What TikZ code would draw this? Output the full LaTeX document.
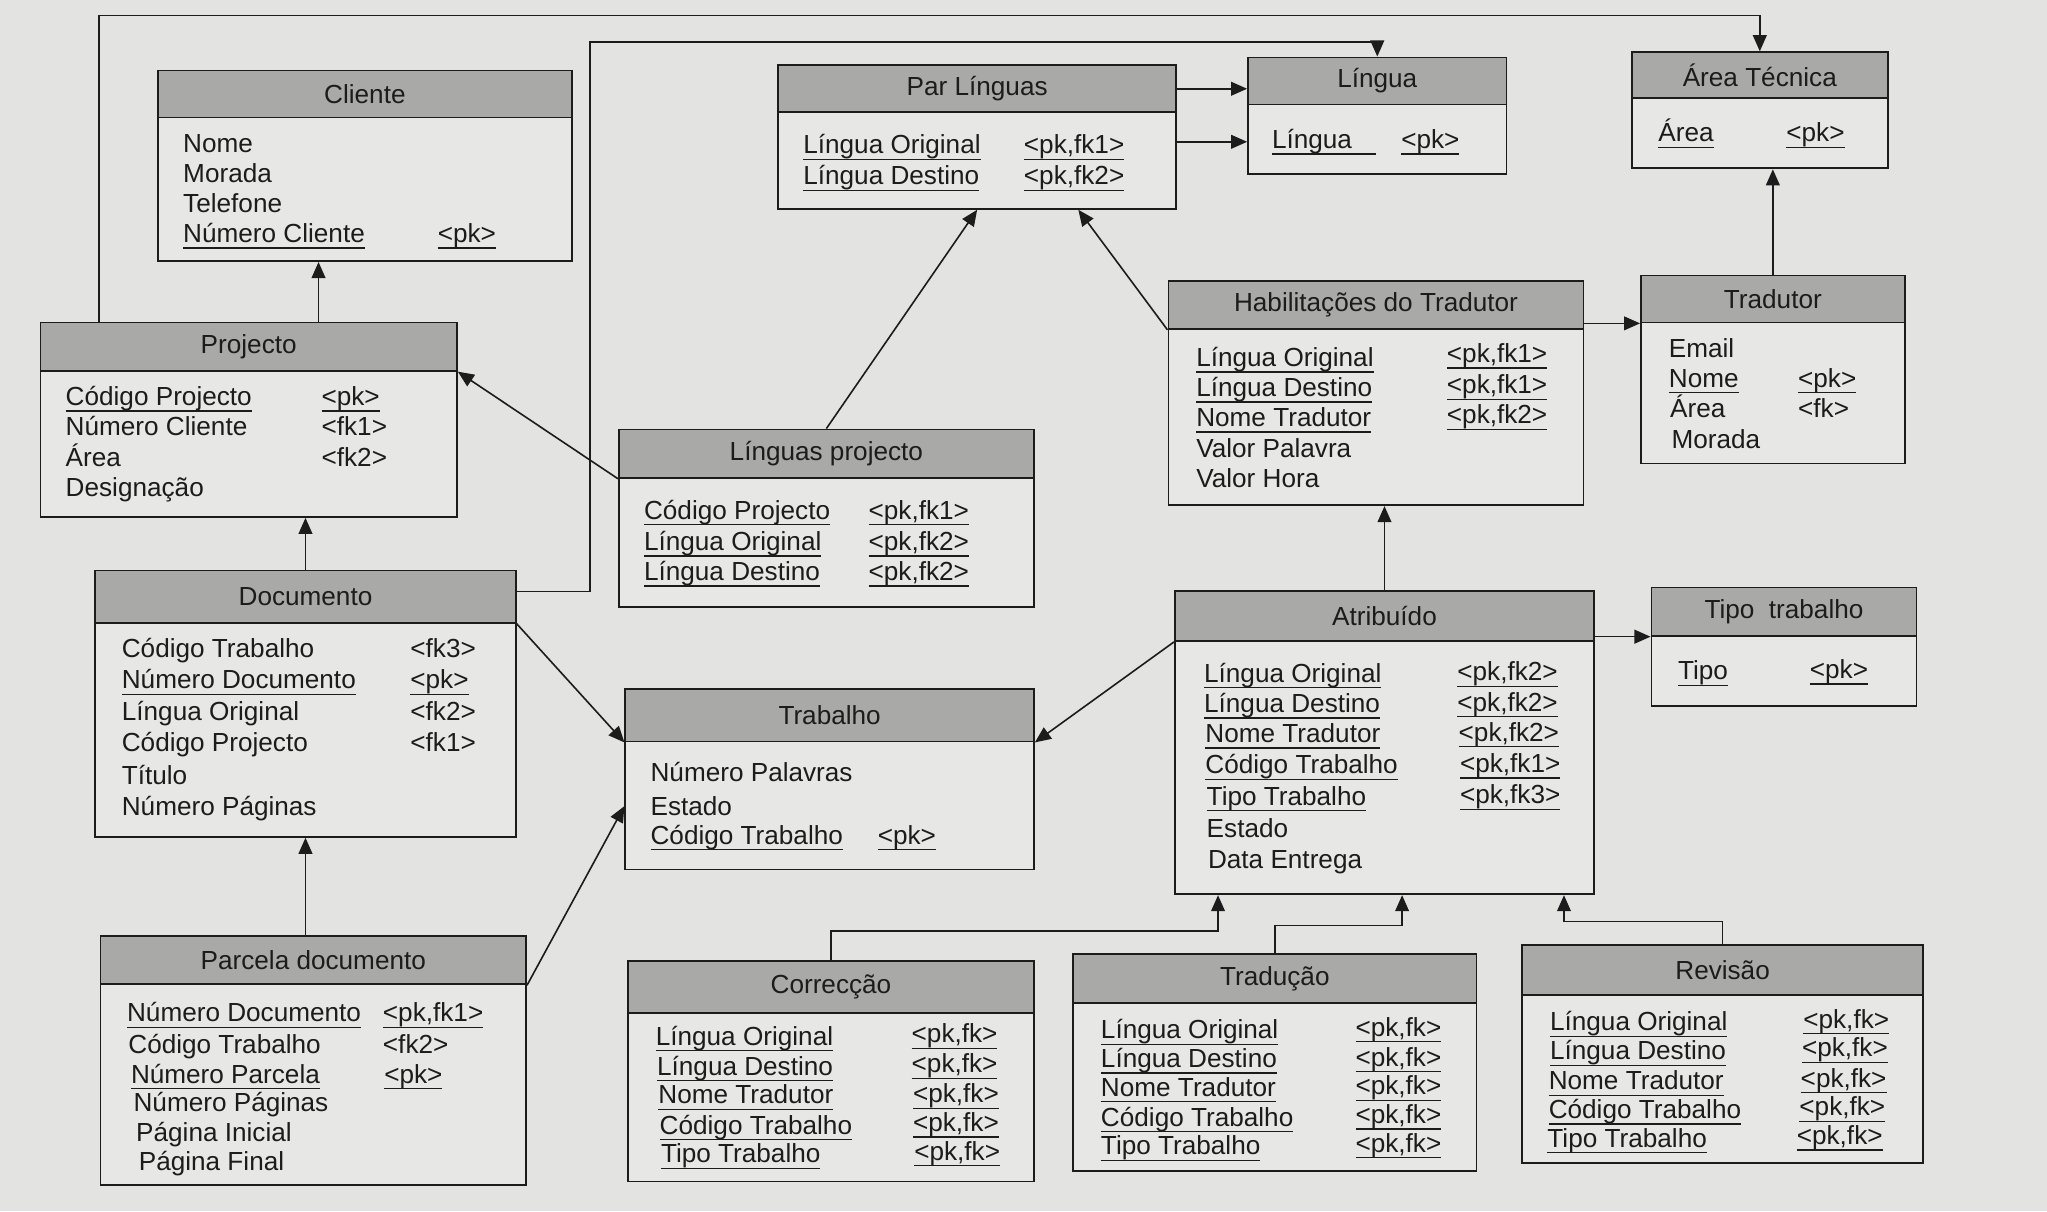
\documentclass[tikz,border=0pt]{standalone}
\usepackage{fontspec}
\setmainfont{Liberation Sans}
\usetikzlibrary{positioning, fit, arrows.meta}

\definecolor{fundo}{HTML}{E3E3E1}
\definecolor{claro}{HTML}{E7E7E5}
\definecolor{escuro}{HTML}{A9A9A7}
\definecolor{tinta}{HTML}{1C1C1C}

\newcommand{\chave}[1]{\setbox0\hbox{#1}\rlap{\rule[-2.7pt]{\wd0}{0.55pt}}\box0}
% tabela: nome, x esq, y topo, x dir, y fim cabecalho, y fundo, titulo
\newcommand{\tabela}[7]{%
  \node[corpo, fit={(#2,#3) (#4,#6)}] (#1) {};
  \node[cabeca, fit={(#2,#3) (#4,#5)}] (#1-h) {};
  \node[titulo] (#1-t) at (#1-h.center) {#7};
}

\begin{document}
\begin{tikzpicture}[x=0.02cm, y=-0.02cm, font=\fontsize{11.4}{13}\selectfont,
    corpo/.style={draw=tinta, fill=claro, line width=0.8pt, inner sep=0pt},
    cabeca/.style={draw=tinta, fill=escuro, line width=0.8pt, inner sep=0pt},
    titulo/.style={inner sep=0pt, text=tinta},
    campo/.style={anchor=mid west, inner sep=0pt, text=tinta},
    seta/.style={draw=tinta, line width=0.7pt, -{Triangle[length=7pt,width=6pt]}}]
    \path[use as bounding box, fill=fundo] (0,0) rectangle (1568,928);

    % tabelas
    \tabela{cliente}{121}{54}{438}{90}{200}{Cliente}
    \tabela{projecto}{31}{247}{350}{284}{396}{Projecto}
    \tabela{documento}{73}{437}{395}{477}{641}{Documento}
    \tabela{parcela}{77}{717}{403}{754}{908}{Parcela documento}
    \tabela{parlinguas}{596}{50}{901}{86}{160}{Par Línguas}
    \tabela{lingua}{956}{44}{1154}{80}{133}{Língua}
    \tabela{area}{1250}{40}{1446}{75}{129}{Área Técnica}
    \tabela{habil}{895}{215}{1213}{252}{387}{Habilitações do Tradutor}
    \tabela{tradutor}{1257}{211}{1459}{247}{355}{Tradutor}
    \tabela{linproj}{474}{329}{792}{366}{465}{Línguas projecto}
    \tabela{trabalho}{479}{528}{792}{568}{666}{Trabalho}
    \tabela{atrib}{900}{453}{1221}{491}{685}{Atribuído}
    \tabela{tipo}{1265}{450}{1468}{487}{541}{Tipo\ \ trabalho}
    \tabela{correc}{481}{736}{792}{776}{905}{Correcção}
    \tabela{tradu}{822}{731}{1131}{768}{897}{Tradução}
    \tabela{revis}{1166}{724}{1473}{762}{891}{Revisão}

    % campos
    \node[campo] (cli-1) at (140,112) {Nome};
    \node[campo] (cli-2) at (140,135) {Morada};
    \node[campo] (cli-3) at (140,158) {Telefone};
    \node[campo] (cli-4) at (140,181) {\chave{Número Cliente}};
    \node[campo] (cli-4k) at (335,181) {\chave{<pk>}};

    \node[campo] (pro-1) at (50,306) {\chave{Código Projecto}};
    \node[campo] (pro-1k) at (246,306) {\chave{<pk>}};
    \node[campo] (pro-2) at (50,329) {Número Cliente};
    \node[campo] (pro-2k) at (246,329) {<fk1>};
    \node[campo] (pro-3) at (50,353) {Área};
    \node[campo] (pro-3k) at (246,353) {<fk2>};
    \node[campo] (pro-4) at (50,376) {Designação};

    \node[campo] (doc-1) at (93,499) {Código Trabalho};
    \node[campo] (doc-1k) at (314,499) {<fk3>};
    \node[campo] (doc-2) at (93,523) {\chave{Número Documento}};
    \node[campo] (doc-2k) at (314,523) {\chave{<pk>}};
    \node[campo] (doc-3) at (93,547) {Língua Original};
    \node[campo] (doc-3k) at (314,547) {<fk2>};
    \node[campo] (doc-4) at (93,571) {Código Projecto};
    \node[campo] (doc-4k) at (314,571) {<fk1>};
    \node[campo] (doc-5) at (93,596) {Título};
    \node[campo] (doc-6) at (93,620) {Número Páginas};

    \node[campo] (par-1) at (97,778) {\chave{Número Documento}};
    \node[campo] (par-1k) at (293,778) {\chave{<pk,fk1>}};
    \node[campo] (par-2) at (98,802) {Código Trabalho};
    \node[campo] (par-2k) at (293,802) {<fk2>};
    \node[campo] (par-3) at (100,825) {\chave{Número Parcela}};
    \node[campo] (par-3k) at (294,825) {\chave{<pk>}};
    \node[campo] (par-4) at (102,847) {Número Páginas};
    \node[campo] (par-5) at (104,870) {Página Inicial};
    \node[campo] (par-6) at (106,892) {Página Final};

    \node[campo] (pl-1) at (615,113) {\chave{Língua Original}};
    \node[campo] (pl-1k) at (784,113) {\chave{<pk,fk1>}};
    \node[campo] (pl-2) at (615,137) {\chave{Língua Destino}};
    \node[campo] (pl-2k) at (784,137) {\chave{<pk,fk2>}};

    \node[campo] (lin-1) at (974,109) {\chave{Língua\hspace{0.9em}}};
    \node[campo] (lin-1k) at (1073,109) {\chave{<pk>}};

    \node[campo] (are-1) at (1270,104) {\chave{Área}};
    \node[campo] (are-1k) at (1368,104) {\chave{<pk>}};

    \node[campo] (hab-1) at (916,276) {\chave{Língua Original}};
    \node[campo] (hab-1k) at (1108,273) {\chave{<pk,fk1>}};
    \node[campo] (hab-2) at (916,299) {\chave{Língua Destino}};
    \node[campo] (hab-2k) at (1108,297) {\chave{<pk,fk1>}};
    \node[campo] (hab-3) at (916,322) {\chave{Nome Tradutor}};
    \node[campo] (hab-3k) at (1108,320) {\chave{<pk,fk2>}};
    \node[campo] (hab-4) at (916,346) {Valor Palavra};
    \node[campo] (hab-5) at (916,369) {Valor Hora};

    \node[campo] (tra-1) at (1278,269) {Email};
    \node[campo] (tra-2) at (1278,292) {\chave{Nome}};
    \node[campo] (tra-2k) at (1377,292) {\chave{<pk>}};
    \node[campo] (tra-3) at (1279,315) {Área};
    \node[campo] (tra-3k) at (1377,315) {<fk>};
    \node[campo] (tra-4) at (1280,339) {Morada};

    \node[campo] (lp-1) at (493,393) {\chave{Código Projecto}};
    \node[campo] (lp-1k) at (665,393) {\chave{<pk,fk1>}};
    \node[campo] (lp-2) at (493,417) {\chave{Língua Original}};
    \node[campo] (lp-2k) at (665,417) {\chave{<pk,fk2>}};
    \node[campo] (lp-3) at (493,440) {\chave{Língua Destino}};
    \node[campo] (lp-3k) at (665,440) {\chave{<pk,fk2>}};

    \node[campo] (trb-1) at (498,594) {Número Palavras};
    \node[campo] (trb-2) at (498,620) {Estado};
    \node[campo] (trb-3) at (498,642) {\chave{Código Trabalho}};
    \node[campo] (trb-3k) at (672,642) {\chave{<pk>}};

    \node[campo] (atr-1) at (922,518) {\chave{Língua Original}};
    \node[campo] (atr-1k) at (1116,517) {\chave{<pk,fk2>}};
    \node[campo] (atr-2) at (922,541) {\chave{Língua Destino}};
    \node[campo] (atr-2k) at (1116,540) {\chave{<pk,fk2>}};
    \node[campo] (atr-3) at (923,564) {\chave{Nome Tradutor}};
    \node[campo] (atr-3k) at (1117,563) {\chave{<pk,fk2>}};
    \node[campo] (atr-4) at (923,588) {\chave{Código Trabalho}};
    \node[campo] (atr-4k) at (1118,587) {\chave{<pk,fk1>}};
    \node[campo] (atr-5) at (924,612) {\chave{Tipo Trabalho}};
    \node[campo] (atr-5k) at (1118,611) {\chave{<pk,fk3>}};
    \node[campo] (atr-6) at (924,637) {Estado};
    \node[campo] (atr-7) at (925,661) {Data Entrega};

    \node[campo] (tip-1) at (1285,516) {\chave{Tipo}};
    \node[campo] (tip-1k) at (1386,515) {\chave{<pk>}};

    \node[campo] (cor-1) at (502,796) {\chave{Língua Original}};
    \node[campo] (cor-1k) at (698,794) {\chave{<pk,fk>}};
    \node[campo] (cor-2) at (503,819) {\chave{Língua Destino}};
    \node[campo] (cor-2k) at (698,817) {\chave{<pk,fk>}};
    \node[campo] (cor-3) at (504,841) {\chave{Nome Tradutor}};
    \node[campo] (cor-3k) at (699,840) {\chave{<pk,fk>}};
    \node[campo] (cor-4) at (505,864) {\chave{Código Trabalho}};
    \node[campo] (cor-4k) at (699,862) {\chave{<pk,fk>}};
    \node[campo] (cor-5) at (506,886) {\chave{Tipo Trabalho}};
    \node[campo] (cor-5k) at (700,884) {\chave{<pk,fk>}};

    \node[campo] (tdu-1) at (843,791) {\chave{Língua Original}};
    \node[campo] (tdu-1k) at (1038,789) {\chave{<pk,fk>}};
    \node[campo] (tdu-2) at (843,813) {\chave{Língua Destino}};
    \node[campo] (tdu-2k) at (1038,812) {\chave{<pk,fk>}};
    \node[campo] (tdu-3) at (843,835) {\chave{Nome Tradutor}};
    \node[campo] (tdu-3k) at (1038,834) {\chave{<pk,fk>}};
    \node[campo] (tdu-4) at (843,858) {\chave{Código Trabalho}};
    \node[campo] (tdu-4k) at (1038,856) {\chave{<pk,fk>}};
    \node[campo] (tdu-5) at (843,880) {\chave{Tipo Trabalho}};
    \node[campo] (tdu-5k) at (1038,878) {\chave{<pk,fk>}};

    \node[campo] (rev-1) at (1187,785) {\chave{Língua Original}};
    \node[campo] (rev-1k) at (1381,783) {\chave{<pk,fk>}};
    \node[campo] (rev-2) at (1187,807) {\chave{Língua Destino}};
    \node[campo] (rev-2k) at (1380,805) {\chave{<pk,fk>}};
    \node[campo] (rev-3) at (1186,830) {\chave{Nome Tradutor}};
    \node[campo] (rev-3k) at (1379,828) {\chave{<pk,fk>}};
    \node[campo] (rev-4) at (1186,852) {\chave{Código Trabalho}};
    \node[campo] (rev-4k) at (1378,850) {\chave{<pk,fk>}};
    \node[campo] (rev-5) at (1185,874) {\chave{Tipo Trabalho}};
    \node[campo] (rev-5k) at (1376,872) {\chave{<pk,fk>}};

    % pontos de dobra
    \coordinate (d1) at (76,12);
    \coordinate (d2) at (452,453);
    \coordinate (d2b) at (452,32);
    \coordinate (d3) at (244,0);
    \coordinate (d8) at (826,0);
    \coordinate (d17) at (933,713);
    \coordinate (d18) at (1074,709);
    \coordinate (d19) at (1198,706);

    % ligacoes
    \draw[seta] (d1 |- projecto.north) -- (d1) -| (area.north);
    \draw[seta] (documento.east |- d2) -- (d2) -- (d2b) -| (lingua.north);
    \draw[seta] (d3 |- projecto.north) -- (d3 |- cliente.south);
    \draw[seta] (documento.north) -- (documento.north |- projecto.south);
    \draw[seta] (documento.south |- parcela.north) -- (documento.south);
    \draw[seta] (linproj-h.south west) -- (projecto-h.south east);
    \draw[seta] (linproj.north) -- (parlinguas.south);
    \draw[seta] (habil-h.south west) -- (d8 |- parlinguas.south);
    \draw[seta] (parlinguas-h.east) -- (parlinguas-h.east -| lingua.west);
    \draw[seta] (lin-1 -| parlinguas.east) -- (lin-1 -| lingua.west);
    \draw[seta] (tradutor-h.south west -| habil.east) -- (tradutor-h.south west);
    \draw[seta] (tradutor.north) -- (tradutor.north |- area.south);
    \draw[seta] (atrib.north) -- (atrib.north |- habil.south);
    \draw[seta] (tipo-h.south west -| atrib.east) -- (tipo-h.south west);
    \draw[seta] (atrib-h.south west) -- (trabalho-h.south east);
    \draw[seta] (documento-h.south east) -- (trabalho-h.south west);
    \draw[seta] (parcela-h.south east) -- (trabalho.west |- trb-2);
    \draw[seta] (correc.north) |- (d17) -- (d17 |- atrib.south);
    \draw[seta] (tradu.north) |- (d18) -- (d18 |- atrib.south);
    \draw[seta] (revis.north) |- (d19) -- (d19 |- atrib.south);
\end{tikzpicture}
\end{document}
